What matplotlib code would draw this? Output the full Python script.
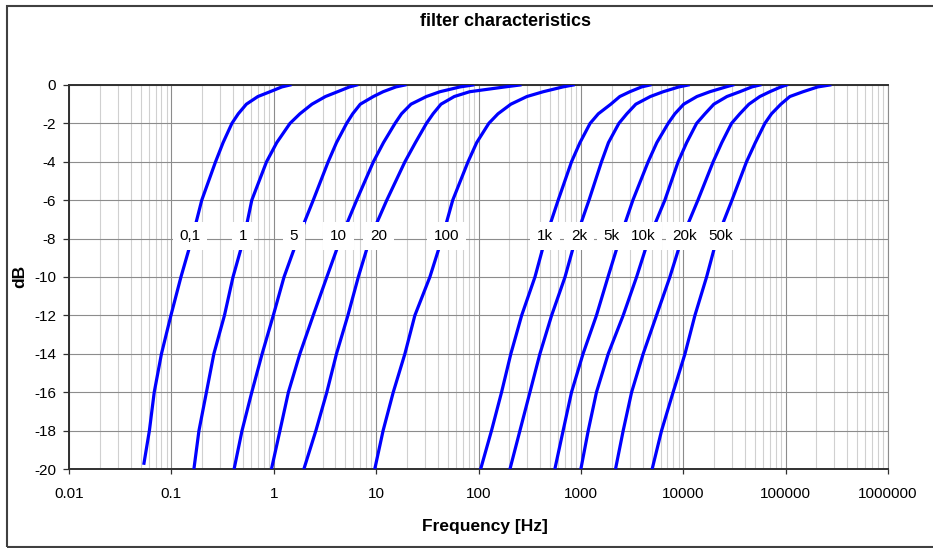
import matplotlib
matplotlib.use("Agg")
import matplotlib.pyplot as plt
import numpy as np
from matplotlib.patches import Rectangle
from matplotlib.ticker import FixedLocator, FixedFormatter, NullFormatter

plt.rcParams['font.family'] = ['Liberation Sans', 'DejaVu Sans']
plt.rcParams['axes.unicode_minus'] = False

# attenuation levels (dB) at which each curve was read
levels_db = [0, -0.1, -0.35, -0.6, -1, -1.5, -2, -3, -4, -6, -8, -10, -12, -14, -16, -18, -20]
levels_db_first = levels_db[:-1] + [-19.7]

curve_names = ["0,1", "1", "5", "10", "20", "100", "1k", "2k", "5k", "10k", "20k", "50k"]

# frequency [Hz] of each curve at the levels above
f_0_1 = [1.44, 1.20, 0.92, 0.70, 0.54, 0.45, 0.39, 0.32, 0.27, 0.198, 0.159, 0.124,
         0.099, 0.080, 0.068, 0.061, 0.054]
f_1 = [6.45, 5.5, 4.2, 3.2, 2.36, 1.80, 1.44, 1.07, 0.85, 0.61, 0.51, 0.40,
       0.33, 0.26, 0.22, 0.186, 0.166]
f_5 = [19.1, 15.6, 11.7, 9.4, 7.0, 5.9, 5.15, 4.1, 3.4, 2.43, 1.72, 1.26,
       0.99, 0.77, 0.61, 0.49, 0.41]
f_10 = [88, 66, 42, 31, 21.9, 17.7, 15.3, 11.8, 9.4, 6.45, 4.5, 3.3,
        2.43, 1.80, 1.39, 1.15, 0.95]
f_20 = [254, 181, 82, 58, 43, 36, 31, 24.2, 19.1, 12.7, 8.7, 6.7,
        5.3, 4.1, 3.3, 2.58, 1.97]
f_100 = [841, 667, 429, 297, 207, 155, 126, 96, 79, 56, 44, 33.5,
         23.9, 19.1, 14.7, 11.7, 9.7]
f_1k = [4720, 3920, 3010, 2400, 1960, 1480, 1230, 980, 810, 600, 450, 356,
        264, 207, 168, 134, 105]
f_2k = [11170, 9060, 6370, 4770, 3440, 2810, 2350, 1860, 1590, 1200, 890, 700,
        518, 398, 318, 254, 203]
f_5k = [30500, 26100, 18200, 13600, 10100, 8280, 7120, 5520, 4540, 3220, 2400, 1840,
        1420, 1050, 810, 671, 557]
f_10k = [56000, 46800, 35700, 26700, 19900, 16300, 13500, 10800, 8910, 6610, 4610, 3500,
         2590, 1850, 1420, 1180, 1000]
f_20k = [102000, 89800, 70100, 56000, 43800, 35700, 29600, 23800, 19600, 13900, 9690, 7400,
         5480, 4060, 3130, 2590, 2180]
f_50k = [270000, 206000, 148000, 110000, 89800, 72800, 62700, 50600, 41500, 29900, 21300, 16900,
         13000, 10400, 7960, 6140, 4970]

curves = [f_0_1, f_1, f_5, f_10, f_20, f_100, f_1k, f_2k, f_5k, f_10k, f_20k, f_50k]

# where the curve labels sit (frequency, dB)
label_freq = [0.152, 0.50, 1.57, 4.3, 10.6, 48.8, 445, 955, 1995, 4060, 10400, 23100]
label_db = -7.85

x_ticks = [0.01, 0.1, 1, 10, 100, 1000, 10000, 100000, 1000000]
x_tick_labels = ["0.01", "0.1", "1", "10", "100", "1000", "10000", "100000", "1000000"]
y_ticks = list(range(-20, 1, 2))

W, H = 933, 548
fig = plt.figure(figsize=(W / 100, H / 100), dpi=100)
ax = fig.add_axes([69 / W, 1 - 469 / H, (888 - 69) / W, (469 - 85) / H])

for i, (name, freqs) in enumerate(zip(curve_names, curves)):
    lv = levels_db_first if i == 0 else levels_db
    ax.plot(freqs, lv, color="#0000FF", lw=2.3, zorder=3, solid_joinstyle="round")

for name, fx in zip(curve_names, label_freq):
    ax.text(fx, label_db, name, ha="center", va="center", fontsize=11, zorder=5,
            bbox=dict(boxstyle="square,pad=0.45", fc="white", ec="none"))

ax.set_xscale("log")
ax.set_xlim(0.01, 1000000)
ax.set_ylim(-20, 0)

ax.xaxis.set_major_locator(FixedLocator(x_ticks))
ax.xaxis.set_major_formatter(FixedFormatter(x_tick_labels))
ax.xaxis.set_minor_locator(matplotlib.ticker.LogLocator(base=10, subs=np.arange(2, 10), numticks=20))
ax.xaxis.set_minor_formatter(NullFormatter())
ax.set_yticks(y_ticks)

ax.grid(True, which="major", axis="both", color="#8c8c8c", lw=0.8, zorder=1)
ax.grid(True, which="minor", axis="x", color="#d0d0d0", lw=0.8, zorder=0)
ax.set_axisbelow(True)

ax.tick_params(axis="x", which="major", direction="out", length=3.6, width=0.9,
               color="#303030", labelsize=11, pad=9)
ax.tick_params(axis="x", which="minor", length=0)
ax.tick_params(axis="y", direction="out", length=4.3, width=0.9,
               color="#303030", labelsize=11, pad=5)

for side in ["left", "bottom", "top"]:
    ax.spines[side].set_color("#303030")
    ax.spines[side].set_linewidth(1.4)
ax.spines["right"].set_color("#8c8c8c")
ax.spines["right"].set_linewidth(0.8)

fig.text(506 / W, 1 - 21 / H, "filter characteristics", ha="center", va="center",
         fontsize=13, fontweight="bold")
fig.text(485 / W, 1 - 526 / H, "Frequency [Hz]", ha="center", va="center",
         fontsize=12.5, fontweight="bold")
fig.text(20 / W, 1 - 276 / H, "dB", ha="center", va="center", rotation=90,
         fontsize=12.5, fontweight="bold")

# chart-area frame
fig.patches.append(Rectangle((7 / W, 1 - 547 / H), 940 / W, 541 / H, transform=fig.transFigure,
                             fill=False, ec="#404040", lw=1.5, zorder=10))

fig.savefig("out.png", dpi=100)
